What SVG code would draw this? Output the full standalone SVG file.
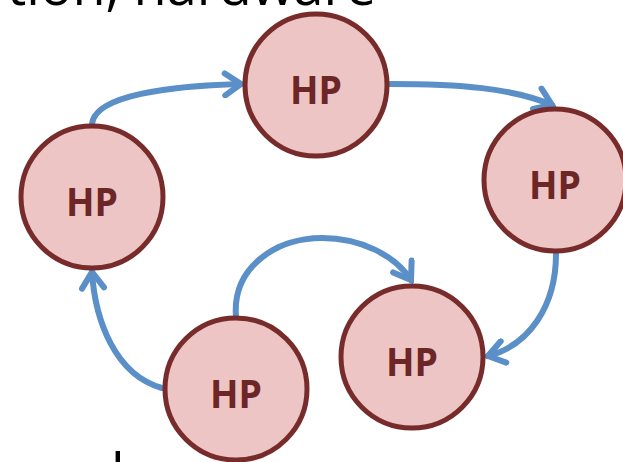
<svg xmlns="http://www.w3.org/2000/svg" width="623" height="462" viewBox="0 0 623 462">
  <style>
    .node circle { fill: #ecc5c4; stroke: #772b2b; stroke-width: 5; }
    .node text { font-family: "Open Sans", "Noto Sans", sans-serif; font-weight: bold; font-size: 40px; fill: #6d2626; text-anchor: middle; }
    .edge { fill: none; stroke: #5b8fc8; stroke-width: 6; stroke-linecap: round; marker-end: url(#chev); }
    .caption { font-family: "Open Sans", "Noto Sans", sans-serif; font-size: 54px; fill: #000; }
  </style>
  <defs>
    <marker id="chev" markerUnits="userSpaceOnUse" viewBox="-20 -14 24 28" markerWidth="24" markerHeight="28" refX="0" refY="0" orient="auto">
      <path d="M-16,-11 L0,0 L-16,11" fill="none" stroke="#5b8fc8" stroke-width="6" stroke-linecap="round" stroke-linejoin="miter"/>
    </marker>
  </defs>

  <!-- surrounding slide text, clipped by the frame -->
  <text class="caption" x="376" y="5" text-anchor="end">tion, hardware</text>
  <text class="caption" x="111" y="493">l</text>

  <g id="connectors">
    <path class="edge" d="M92,124 C95,95 170,86 241,84"/>
    <path class="edge" d="M389,84 C460,84 512,88 552,105"/>
    <path class="edge" d="M556,254 C556,305 530,345 488,356"/>
    <path class="edge" d="M236,317 C232,268 275,238 322,238 C360,238 395,255 411,280"/>
    <path class="edge" d="M162,388 C115,375 95,320 92,272"/>
  </g>

  <g id="hp-top" class="node">
    <circle cx="316" cy="85" r="71"/>
    <text x="316" y="104" textLength="52" lengthAdjust="spacingAndGlyphs">HP</text>
  </g>
  <g id="hp-left" class="node">
    <circle cx="92" cy="197" r="71"/>
    <text x="92" y="216" textLength="52" lengthAdjust="spacingAndGlyphs">HP</text>
  </g>
  <g id="hp-right" class="node">
    <circle cx="555" cy="180" r="71"/>
    <text x="555" y="199" textLength="52" lengthAdjust="spacingAndGlyphs">HP</text>
  </g>
  <g id="hp-bottom-right" class="node">
    <circle cx="412" cy="357" r="71"/>
    <text x="412" y="376" textLength="52" lengthAdjust="spacingAndGlyphs">HP</text>
  </g>
  <g id="hp-bottom-left" class="node">
    <circle cx="236" cy="389" r="71"/>
    <text x="236" y="408" textLength="52" lengthAdjust="spacingAndGlyphs">HP</text>
  </g>
</svg>
